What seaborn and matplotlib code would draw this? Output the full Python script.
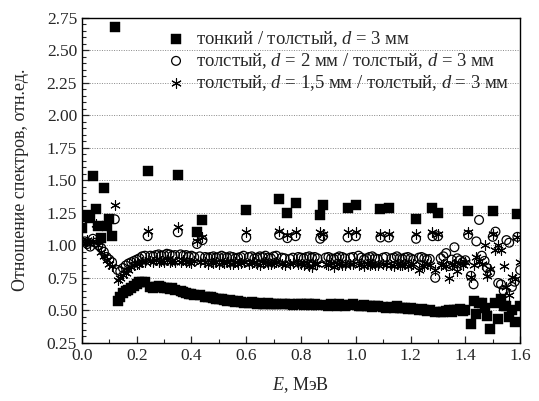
import matplotlib
matplotlib.use("Agg")
import matplotlib.pyplot as plt
import seaborn as sns
import pandas as pd
from matplotlib.ticker import MultipleLocator

energy = [0.00, 0.01, 0.02, 0.03, 0.04, 0.05, 0.06, 0.07, 0.08, 0.09,
          0.10, 0.11, 0.12, 0.13, 0.14, 0.15, 0.16, 0.17, 0.18, 0.19,
          0.20, 0.21, 0.22, 0.23, 0.24, 0.25, 0.26, 0.27, 0.28, 0.29,
          0.30, 0.31, 0.32, 0.33, 0.34, 0.35, 0.36, 0.37, 0.38, 0.39,
          0.40, 0.41, 0.42, 0.43, 0.44, 0.45, 0.46, 0.47, 0.48, 0.49,
          0.50, 0.51, 0.52, 0.53, 0.54, 0.55, 0.56, 0.57, 0.58, 0.59,
          0.60, 0.61, 0.62, 0.63, 0.64, 0.65, 0.66, 0.67, 0.68, 0.69,
          0.70, 0.71, 0.72, 0.73, 0.74, 0.75, 0.76, 0.77, 0.78, 0.79,
          0.80, 0.81, 0.82, 0.83, 0.84, 0.85, 0.86, 0.87, 0.88, 0.89,
          0.90, 0.91, 0.92, 0.93, 0.94, 0.95, 0.96, 0.97, 0.98, 0.99,
          1.00, 1.01, 1.02, 1.03, 1.04, 1.05, 1.06, 1.07, 1.08, 1.09,
          1.10, 1.11, 1.12, 1.13, 1.14, 1.15, 1.16, 1.17, 1.18, 1.19,
          1.20, 1.21, 1.22, 1.23, 1.24, 1.25, 1.26, 1.27, 1.28, 1.29,
          1.30, 1.31, 1.32, 1.33, 1.34, 1.35, 1.36, 1.37, 1.38, 1.39,
          1.40, 1.41, 1.42, 1.43, 1.44, 1.45, 1.46, 1.47, 1.48, 1.49,
          1.50, 1.51, 1.52, 1.53, 1.54, 1.55, 1.56, 1.57, 1.58, 1.59,
          1.60]

thin_thick = [1.13, 1.22, 1.235, 1.21, 1.53, 1.28, 1.15, 1.055, 1.44, 1.15,
              1.20, 1.07, 2.68, 0.57, 0.60, 0.63, 0.645, 0.66, 0.67, 0.69,
              0.70, 0.715, 0.72, 0.715, 1.57, 0.68, 0.675, 0.68, 0.685, 0.68,
              0.675, 0.67, 0.665, 0.67, 0.66, 1.54, 0.645, 0.64, 0.635, 0.625,
              0.625, 0.62, 1.105, 0.615, 1.195, 0.605, 0.60, 0.605, 0.595, 0.59,
              0.585, 0.59, 0.58, 0.575, 0.58, 0.57, 0.565, 0.57, 0.565, 0.56,
              1.27, 0.56, 0.565, 0.555, 0.55, 0.555, 0.55, 0.545, 0.555, 0.55,
              0.545, 0.55, 1.355, 0.545, 0.55, 1.25, 0.545, 0.54, 1.325, 0.55,
              0.545, 0.54, 0.55, 0.545, 0.54, 0.545, 0.54, 1.235, 1.31, 0.54,
              0.535, 0.545, 0.54, 0.535, 0.545, 0.54, 0.535, 1.29, 0.54, 0.55,
              1.31, 0.535, 0.53, 0.54, 0.535, 0.53, 0.525, 0.535, 0.53, 1.28,
              0.525, 0.52, 1.285, 0.525, 0.52, 0.53, 0.52, 0.515, 0.52, 0.51,
              0.515, 0.51, 1.20, 0.505, 0.51, 0.50, 0.495, 0.50, 1.29, 0.49,
              1.25, 0.485, 0.49, 0.495, 0.50, 0.49, 0.505, 0.50, 0.51, 0.495,
              0.50, 1.26, 0.395, 0.57, 0.47, 0.56, 0.56, 0.52, 0.46, 0.36,
              1.26, 0.56, 0.435, 0.59, 0.53, 0.53, 0.45, 0.50, 0.41, 1.24,
              0.535]

thick2_thick3 = [1.19, 1.03, 1.01, 0.99, 1.05, 1.02, 1.00, 0.98, 0.95, 0.91,
                 0.89, 0.87, 1.20, 0.81, 0.80, 0.825, 0.845, 0.86, 0.87, 0.88,
                 0.89, 0.90, 0.915, 0.92, 1.07, 0.92, 0.915, 0.925, 0.93, 0.92,
                 0.925, 0.935, 0.93, 0.92, 0.925, 1.10, 0.93, 0.92, 0.925, 0.915,
                 0.92, 0.91, 1.01, 0.915, 1.04, 0.91, 0.905, 0.91, 0.915, 0.905,
                 0.91, 0.92, 0.91, 0.905, 0.915, 0.91, 0.90, 0.905, 0.91, 0.92,
                 1.06, 0.91, 0.915, 0.90, 0.905, 0.915, 0.91, 0.92, 0.905, 0.90,
                 0.915, 0.92, 1.08, 0.905, 0.90, 1.055, 0.895, 0.905, 1.07, 0.91,
                 0.905, 0.90, 0.91, 0.915, 0.905, 0.91, 0.90, 1.05, 1.07, 0.905,
                 0.91, 0.90, 0.895, 0.905, 0.915, 0.91, 0.90, 1.06, 0.905, 0.91,
                 1.07, 0.92, 0.905, 0.89, 0.90, 0.91, 0.915, 0.90, 0.895, 1.06,
                 0.905, 0.91, 1.06, 0.90, 0.905, 0.915, 0.90, 0.895, 0.905, 0.91,
                 0.90, 0.89, 1.05, 0.905, 0.91, 0.90, 0.89, 0.895, 1.07, 0.75,
                 1.07, 0.90, 0.915, 0.94, 0.84, 0.89, 0.985, 0.90, 0.885, 0.87,
                 0.885, 1.08, 0.765, 0.70, 1.03, 1.195, 0.92, 0.88, 0.825, 0.79,
                 1.065, 1.105, 0.71, 0.70, 0.65, 1.04, 1.02, 0.68, 0.72, 1.065,
                 0.81]

thick15_thick3 = [1.03, 1.02, 1.04, 1.01, 1.03, 1.16, 1.00, 0.95, 0.92, 0.89,
                  0.86, 0.84, 1.31, 0.73, 0.745, 0.77, 0.79, 0.81, 0.83, 0.845,
                  0.855, 0.86, 0.87, 0.875, 1.11, 0.88, 0.87, 0.885, 0.875, 0.88,
                  0.87, 0.885, 0.875, 0.88, 0.87, 1.14, 0.875, 0.885, 0.87, 0.875,
                  0.865, 0.88, 1.03, 0.87, 1.06, 0.875, 0.86, 0.87, 0.865, 0.875,
                  0.86, 0.87, 0.865, 0.875, 0.86, 0.855, 0.87, 0.86, 0.865, 0.87,
                  1.10, 0.86, 0.865, 0.875, 0.86, 0.85, 0.865, 0.87, 0.86, 0.855,
                  0.865, 0.87, 1.11, 0.86, 0.85, 1.08, 0.86, 0.865, 1.10, 0.855,
                  0.86, 0.85, 0.865, 0.84, 0.83, 0.86, 0.855, 1.10, 1.09, 0.86,
                  0.85, 0.865, 0.83, 0.855, 0.86, 0.85, 0.845, 1.10, 0.855, 0.86,
                  1.10, 0.85, 0.86, 0.84, 0.855, 0.85, 0.86, 0.845, 0.85, 1.09,
                  0.855, 0.845, 1.09, 0.85, 0.84, 0.855, 0.845, 0.85, 0.86, 0.84,
                  0.85, 0.855, 1.09, 0.81, 0.85, 0.84, 0.855, 0.845, 1.10, 0.81,
                  1.09, 0.85, 0.86, 0.84, 0.75, 0.85, 0.86, 0.80, 0.865, 0.85,
                  0.87, 1.10, 0.76, 0.85, 0.91, 0.88, 0.86, 1.00, 0.765, 0.82,
                  1.09, 0.965, 1.00, 0.96, 0.84, 0.68, 0.62, 0.76, 0.74, 1.06,
                  0.87]

labels = ["тонкий / толстый, $d$ = 3 мм",
          "толстый, $d$ = 2 мм / толстый, $d$ = 3 мм",
          "толстый, $d$ = 1,5 мм / толстый, $d$ = 3 мм"]

sns.set_style("ticks")
plt.rcParams["font.family"] = ["Liberation Serif", "DejaVu Serif"]
plt.rcParams["mathtext.fontset"] = "custom"
plt.rcParams["mathtext.rm"] = "Liberation Serif"
plt.rcParams["mathtext.it"] = "Liberation Serif:italic"

df = pd.DataFrame({"E": energy, "s1": thin_thick, "s2": thick2_thick3, "s3": thick15_thick3})

fig = plt.figure(figsize=(5.39, 4.01), dpi=100)
ax = fig.add_axes([0.152, 0.145, 0.813, 0.811])

sns.scatterplot(data=df, x="E", y="s1", ax=ax, marker="s", s=42, color="black",
                edgecolor="black", linewidth=0.3, label=labels[0], zorder=3)
sns.scatterplot(data=df, x="E", y="s2", ax=ax, marker="o", s=40, facecolors="none",
                edgecolor="black", linewidth=0.9, label=labels[1], zorder=4)
sns.scatterplot(data=df, x="E", y="s3", ax=ax, marker=(6, 2, 0), s=48, color="black",
                linewidth=0.8, label=labels[2], zorder=5)

ax.set_xlim(0.0, 1.6)
ax.set_ylim(0.25, 2.75)
ax.xaxis.set_major_locator(MultipleLocator(0.2))
ax.xaxis.set_minor_locator(MultipleLocator(0.1))
ax.yaxis.set_major_locator(MultipleLocator(0.25))
ax.yaxis.set_minor_locator(MultipleLocator(0.05))
ax.xaxis.set_major_formatter(plt.FormatStrFormatter("%.1f"))
ax.yaxis.set_major_formatter(plt.FormatStrFormatter("%.2f"))
ax.tick_params(which="major", direction="in", length=5, width=0.9, labelsize=12.5,
               top=False, right=False)
ax.tick_params(which="minor", direction="in", length=3, width=0.8, top=False, right=False)
for sp in ax.spines.values():
    sp.set_visible(True)
    sp.set_linewidth(1.0)
    sp.set_color("black")

ax.yaxis.grid(True, which="major", linestyle=(0, (1, 1.5)), linewidth=0.7, color="#888888")
ax.xaxis.grid(False)

ax.set_xlabel("$E$, МэВ", fontsize=13, labelpad=8)
ax.set_ylabel("Отношение спектров, отн.ед.", fontsize=13, labelpad=13)

leg = ax.legend(loc="upper left", bbox_to_anchor=(0.168, 1.0), frameon=False,
                fontsize=13.4, handlelength=1.0, handletextpad=0.6, labelspacing=0.12,
                borderaxespad=0.2)

fig.savefig("out.png", dpi=100)
